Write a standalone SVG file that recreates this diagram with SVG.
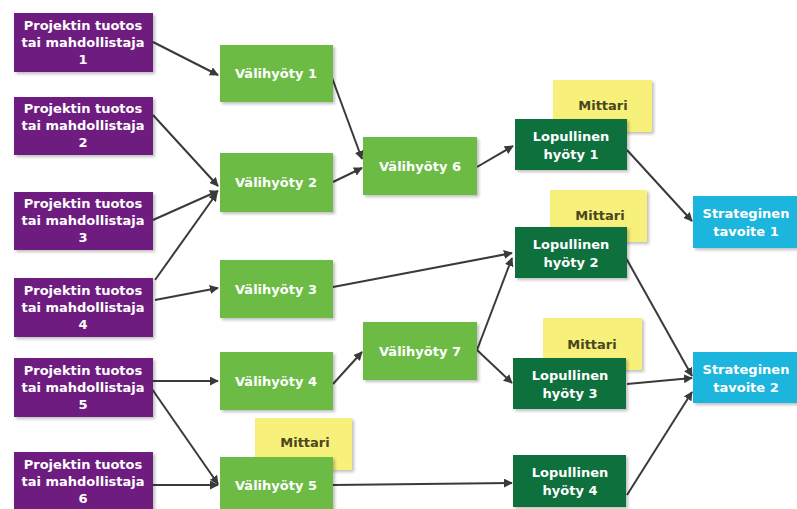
<svg xmlns="http://www.w3.org/2000/svg" width="797" height="509" viewBox="0 0 797 509">
  <style>
    text { font-family: "DejaVu Sans", Verdana, sans-serif; font-weight: bold; font-size: 13px; text-anchor: middle; fill: #ffffff; }
    .purple { fill: #6e1f80; }
    .green { fill: #6cbb45; }
    .dark { fill: #0e6f3e; }
    .yellow { fill: #f7f07a; }
    .cyan { fill: #1bb5de; }
    .box { filter: url(#shadow); }
    .mittari text { fill: #4a4620; }
    .edge { stroke: #3a3a3a; stroke-width: 2; fill: none; marker-end: url(#arrow); }
  </style>
  <defs>
    <filter id="shadow" x="-10%" y="-10%" width="125%" height="130%">
      <feDropShadow dx="2" dy="2" stdDeviation="1.5" flood-color="#000000" flood-opacity="0.25"/>
    </filter>
    <marker id="arrow" viewBox="0 0 10 10" refX="9" refY="5" markerWidth="4.5" markerHeight="4.5" orient="auto" markerUnits="strokeWidth">
      <path d="M0,0 L10,5 L0,10 z" fill="#3a3a3a"/>
    </marker>
  </defs>
  <rect width="797" height="509" fill="#ffffff"/>

  <!-- connectors -->
  <g id="connectors">
    <line class="edge" x1="153" y1="42" x2="218" y2="75"/>
    <line class="edge" x1="153" y1="115" x2="218" y2="186"/>
    <line class="edge" x1="153" y1="220" x2="218" y2="191"/>
    <line class="edge" x1="155" y1="280" x2="217" y2="193"/>
    <line class="edge" x1="155" y1="300" x2="218" y2="288"/>
    <line class="edge" x1="153" y1="381" x2="218" y2="381"/>
    <line class="edge" x1="152" y1="389" x2="218" y2="484"/>
    <line class="edge" x1="153" y1="485" x2="218" y2="485"/>
    <line class="edge" x1="331" y1="75" x2="362" y2="159"/>
    <line class="edge" x1="333" y1="182" x2="362" y2="168"/>
    <line class="edge" x1="477" y1="167" x2="513" y2="146"/>
    <line class="edge" x1="627" y1="150" x2="692" y2="221"/>
    <line class="edge" x1="333" y1="287" x2="512" y2="253"/>
    <line class="edge" x1="333" y1="384" x2="362" y2="352"/>
    <line class="edge" x1="477" y1="350" x2="512" y2="258"/>
    <line class="edge" x1="477" y1="350" x2="512" y2="383"/>
    <line class="edge" x1="626" y1="258" x2="692" y2="376"/>
    <line class="edge" x1="627" y1="384" x2="692" y2="378"/>
    <line class="edge" x1="627" y1="495" x2="692" y2="392"/>
    <line class="edge" x1="333" y1="485" x2="512" y2="483"/>
  </g>

  <!-- project outputs / enablers -->
  <g id="p1"><rect class="purple box" x="14" y="13" width="139" height="59"/>
    <text x="83" y="30">Projektin tuotos</text><text x="83" y="47">tai mahdollistaja</text><text x="83" y="64">1</text></g>
  <g id="p2"><rect class="purple box" x="14" y="97" width="139" height="58"/>
    <text x="83" y="113">Projektin tuotos</text><text x="83" y="130">tai mahdollistaja</text><text x="83" y="147">2</text></g>
  <g id="p3"><rect class="purple box" x="14" y="192" width="139" height="58"/>
    <text x="83" y="208">Projektin tuotos</text><text x="83" y="225">tai mahdollistaja</text><text x="83" y="242">3</text></g>
  <g id="p4"><rect class="purple box" x="14" y="278" width="139" height="59"/>
    <text x="83" y="295">Projektin tuotos</text><text x="83" y="312">tai mahdollistaja</text><text x="83" y="329">4</text></g>
  <g id="p5"><rect class="purple box" x="14" y="358" width="139" height="59"/>
    <text x="83" y="375">Projektin tuotos</text><text x="83" y="392">tai mahdollistaja</text><text x="83" y="409">5</text></g>
  <g id="p6"><rect class="purple box" x="14" y="452" width="139" height="58"/>
    <text x="83" y="469">Projektin tuotos</text><text x="83" y="486">tai mahdollistaja</text><text x="83" y="503">6</text></g>

  <!-- measure note behind Välihyöty 5 -->
  <g id="m5" class="mittari"><rect class="yellow box" x="255" y="418" width="97" height="52"/>
    <text x="305" y="447">Mittari</text></g>

  <!-- intermediate benefits -->
  <g id="v1"><rect class="green box" x="220" y="45" width="113" height="57"/><text x="276" y="78">Välihyöty 1</text></g>
  <g id="v2"><rect class="green box" x="220" y="153" width="113" height="59"/><text x="276" y="187">Välihyöty 2</text></g>
  <g id="v3"><rect class="green box" x="220" y="260" width="113" height="58"/><text x="276" y="294">Välihyöty 3</text></g>
  <g id="v4"><rect class="green box" x="220" y="352" width="113" height="58"/><text x="276" y="386">Välihyöty 4</text></g>
  <g id="v5"><rect class="green box" x="220" y="457" width="113" height="54"/><text x="276" y="490">Välihyöty 5</text></g>
  <g id="v6"><rect class="green box" x="363" y="137" width="114" height="58"/><text x="420" y="171">Välihyöty 6</text></g>
  <g id="v7"><rect class="green box" x="363" y="322" width="114" height="58"/><text x="420" y="356">Välihyöty 7</text></g>

  <!-- measures -->
  <g id="m1" class="mittari"><rect class="yellow box" x="553" y="80" width="99" height="52"/><text x="603" y="110">Mittari</text></g>
  <g id="m2" class="mittari"><rect class="yellow box" x="550" y="190" width="97" height="52"/><text x="600" y="220">Mittari</text></g>
  <g id="m3" class="mittari"><rect class="yellow box" x="543" y="318" width="99" height="52"/><text x="592" y="349">Mittari</text></g>

  <!-- final benefits -->
  <g id="l1"><rect class="dark box" x="515" y="119" width="112" height="51"/>
    <text x="571" y="141">Lopullinen</text><text x="571" y="159">hyöty 1</text></g>
  <g id="l2"><rect class="dark box" x="515" y="227" width="112" height="51"/>
    <text x="571" y="249">Lopullinen</text><text x="571" y="267">hyöty 2</text></g>
  <g id="l3"><rect class="dark box" x="513" y="358" width="113" height="51"/>
    <text x="570" y="380">Lopullinen</text><text x="570" y="398">hyöty 3</text></g>
  <g id="l4"><rect class="dark box" x="513" y="455" width="113" height="52"/>
    <text x="570" y="477">Lopullinen</text><text x="570" y="495">hyöty 4</text></g>

  <!-- strategic goals -->
  <g id="s1"><rect class="cyan box" x="693" y="196" width="106" height="52"/>
    <text x="746" y="218">Strateginen</text><text x="746" y="236">tavoite 1</text></g>
  <g id="s2"><rect class="cyan box" x="693" y="352" width="106" height="51"/>
    <text x="746" y="374">Strateginen</text><text x="746" y="392">tavoite 2</text></g>
</svg>
